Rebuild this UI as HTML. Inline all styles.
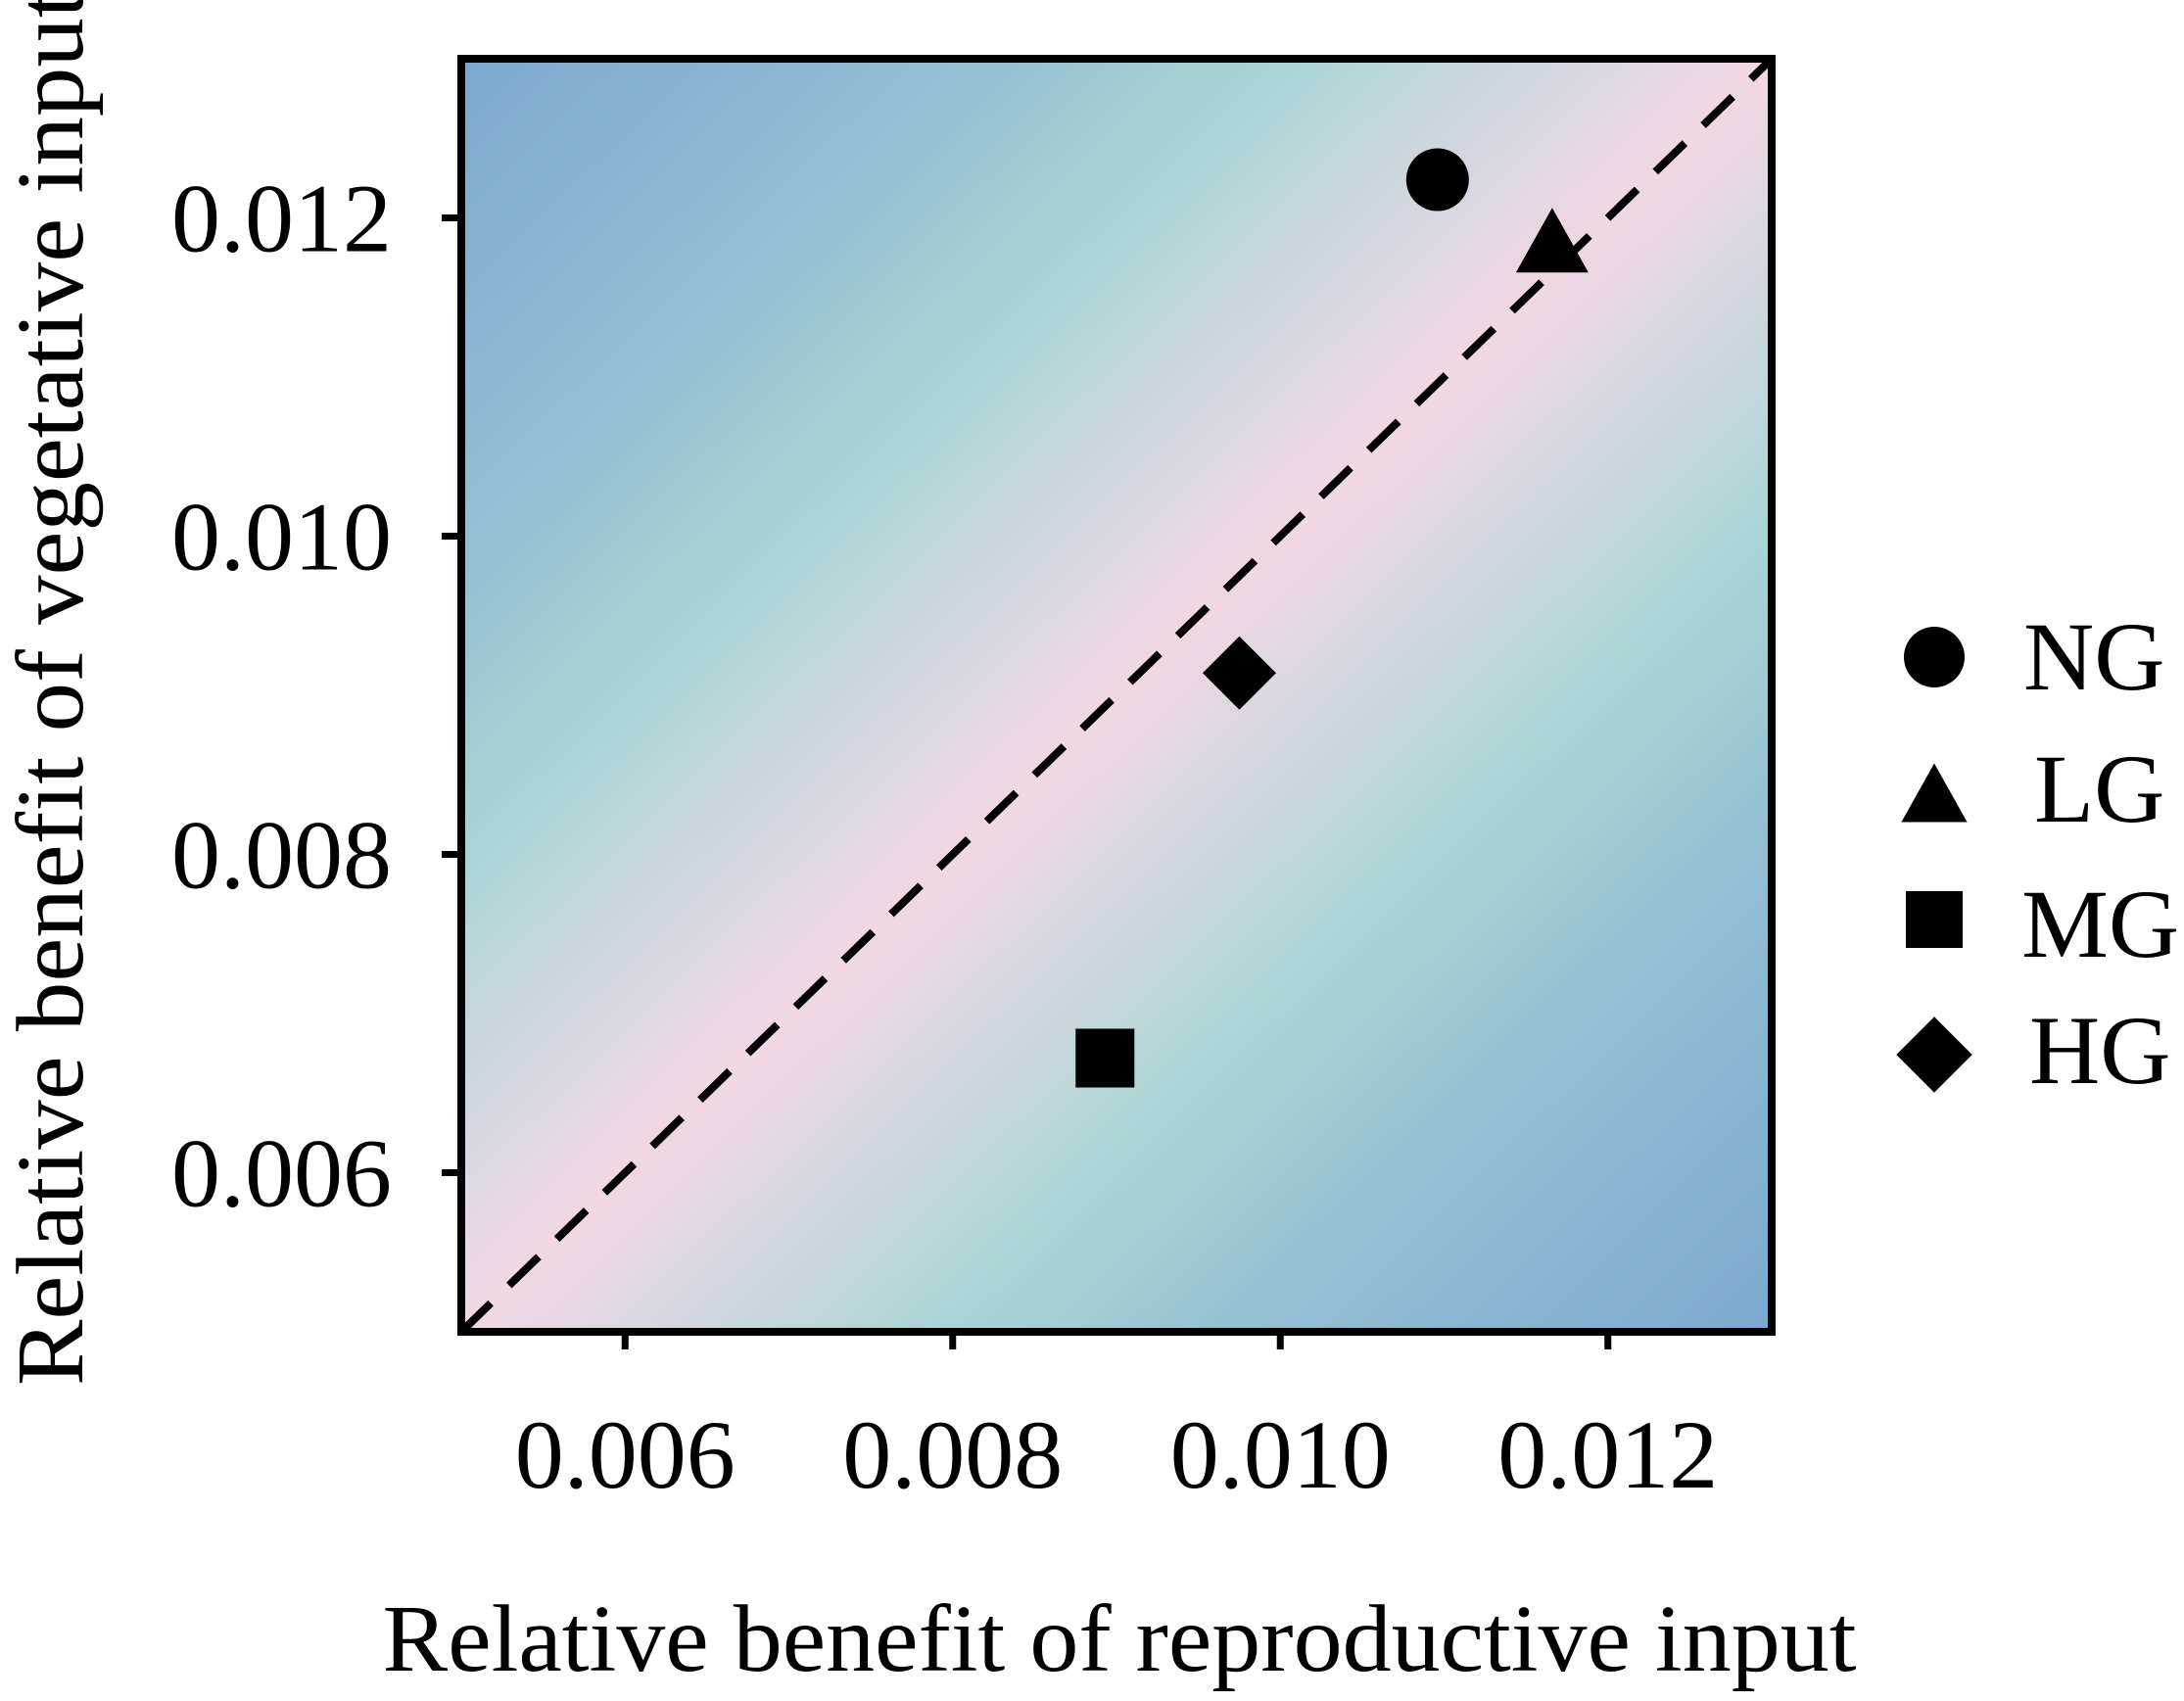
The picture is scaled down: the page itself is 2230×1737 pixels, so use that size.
<!DOCTYPE html>
<html><head><meta charset="utf-8"><style>
html,body{margin:0;padding:0;background:#fff;}
svg{display:block;font-family:"Liberation Serif",serif;}
</style></head><body>
<svg id="chart" width="2230" height="1737" viewBox="0 0 2230 1737" xmlns="http://www.w3.org/2000/svg">
<defs>
<linearGradient id="bg" x1="0" y1="0" x2="1" y2="1">
<stop offset="0" stop-color="#7ba8d0"/>
<stop offset="0.2" stop-color="#93c0d3"/>
<stop offset="0.32" stop-color="#aad5d4"/>
<stop offset="0.42" stop-color="#d3d7df"/>
<stop offset="0.5" stop-color="#f2d7e5"/>
<stop offset="0.58" stop-color="#d3d7df"/>
<stop offset="0.68" stop-color="#aad5d4"/>
<stop offset="0.8" stop-color="#93c0d3"/>
<stop offset="1" stop-color="#7ba8d0"/>
</linearGradient>
</defs>
<rect x="471" y="60" width="1338" height="1300" fill="url(#bg)"/>
<g id="marks"></g>
<rect x="471" y="60" width="1338" height="1300" fill="none" stroke="#000" stroke-width="8"/>
<g id="axes"></g>
<text x="1143" y="1706" font-size="98" text-anchor="middle" textLength="1505" lengthAdjust="spacingAndGlyphs">Relative benefit of reproductive input</text>
<text transform="translate(84,1415) rotate(-90)" x="0" y="0" font-size="98" textLength="1425" lengthAdjust="spacingAndGlyphs">Relative benefit of vegetative input</text>
<g id="legend"></g>
</svg>
<script>
const groups = ["NG","LG","MG","HG"];
const xValues = [0.01096, 0.01166, 0.00893, 0.00975];
const yValues = [0.01224, 0.01185, 0.00672, 0.00914];
const shapes = ["circle","triangle","square","diamond"];
const xTicks = [0.006, 0.008, 0.010, 0.012];
const yTicks = [0.006, 0.008, 0.010, 0.012];
const xTickLabels = ["0.006","0.008","0.010","0.012"];
const yTickLabels = ["0.006","0.008","0.010","0.012"];
const xDomain = [0.005, 0.013];
const yDomain = [0.005, 0.013];

const L=471,R=1809,T=60,B=1360;
function sx(v){return L+(v-xDomain[0])/(xDomain[1]-xDomain[0])*(R-L);}
function sy(v){return B-(v-yDomain[0])/(yDomain[1]-yDomain[0])*(B-T);}
const NS="http://www.w3.org/2000/svg";
function mk(tag,attrs){const e=document.createElementNS(NS,tag);for(const k in attrs)e.setAttribute(k,attrs[k]);return e;}
function shape(kind,cx,cy,s){
  if(kind==="circle") return mk("ellipse",{cx:cx,cy:cy,rx:s,ry:s,fill:"#000"});
  if(kind==="triangle") return mk("polygon",{points:`${cx},${cy-s*1.05} ${cx-s*1.12},${cy+s*0.95} ${cx+s*1.12},${cy+s*0.95}`,fill:"#000"});
  if(kind==="square") return mk("rect",{x:cx-s,y:cy-s,width:2*s,height:2*s,fill:"#000"});
  return mk("polygon",{points:`${cx},${cy-s*1.25} ${cx+s*1.25},${cy} ${cx},${cy+s*1.25} ${cx-s*1.25},${cy}`,fill:"#000"});
}
const marks=document.getElementById("marks");
const diag=mk("line",{x1:sx(0.005),y1:sy(0.005),x2:sx(0.013),y2:sy(0.013),stroke:"#000","stroke-width":8,"stroke-dasharray":"42 26"});


marks.appendChild(diag);
const sizes={circle:32,triangle:33,square:30,diamond:30};
groups.forEach((g,i)=>{
  const e=shape(shapes[i],sx(xValues[i]),sy(yValues[i]),sizes[shapes[i]]);
  
  
  marks.appendChild(e);
});
const axes=document.getElementById("axes");
xTicks.forEach((v,i)=>{
  const t=mk("line",{x1:sx(v),x2:sx(v),y1:B+4,y2:B+18,stroke:"#000","stroke-width":7});
  
  
  axes.appendChild(t);
  const tx=mk("text",{x:sx(v),y:1519,"font-size":100,"text-anchor":"middle"});
  tx.textContent=xTickLabels[i];
  
  
  axes.appendChild(tx);
});
yTicks.forEach((v,i)=>{
  const t=mk("line",{x1:L-4,x2:L-20,y1:sy(v),y2:sy(v),stroke:"#000","stroke-width":7});
  
  
  axes.appendChild(t);
  const tx=mk("text",{x:400,y:sy(v)+34,"font-size":100,"text-anchor":"end"});
  tx.textContent=yTickLabels[i];
  
  
  axes.appendChild(tx);
});
const legend=document.getElementById("legend");
const legY=[671,811,939,1077];
const legTextX=[2066,2077,2064,2072];
const legBase=[704,839,977,1106];
groups.forEach((g,i)=>{
  const e=shape(shapes[i],1975,legY[i],shapes[i]==="circle"?31:(shapes[i]==="triangle"?30:(shapes[i]==="square"?29:31)));
  
  
  legend.appendChild(e);
  const t=mk("text",{x:legTextX[i],y:legBase[i],"font-size":100});
  t.textContent=g;
  
  
  legend.appendChild(t);
});
</script>
</body></html>
